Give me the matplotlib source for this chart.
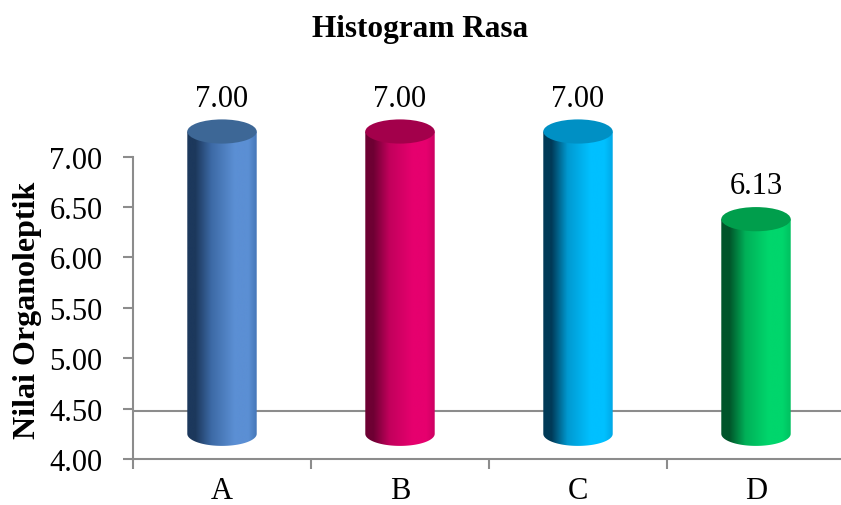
import matplotlib.pyplot as plt
import numpy as np
from matplotlib.colors import LinearSegmentedColormap
from matplotlib.patches import Ellipse, PathPatch
from matplotlib.path import Path

# data
kategori = ['A', 'B', 'C', 'D']
nilai = [7.00, 7.00, 7.00, 6.13]

# warna: (tepi gelap, tengah, terang, kanan, tutup)
warna = [('#1c385c', '#3d6aa6', '#5b8fd4', '#4577b8', '#3d6796'),
         ('#6e0033', '#c2005c', '#e6006e', '#cc0062', '#a3004b'),
         ('#003a57', '#0099d0', '#00c0ff', '#00a8e6', '#0090c4'),
         ('#00552a', '#00b058', '#00d66c', '#00c060', '#009e4c')]

plt.rcParams['font.family'] = 'Liberation Serif'

fig = plt.figure(figsize=(8.41, 5.06), dpi=100)
ax = fig.add_axes([133/841, 46/506, 712/841, (460-67)/506])

dasar = 4.0
offset = 0.25      # geser 3D
lebar = 0.39
ry = 0.12          # setengah tinggi elips

ax.axhline(4.48, color='#8c8c8c', lw=1.5, zorder=1)

grad = np.linspace(0, 1, 256).reshape(1, -1)
for i, v in enumerate(nilai):
    gelap, tengah, terang, kanan, tutup = warna[i]
    cmap = LinearSegmentedColormap.from_list('c%d' % i,
                                             [(0, gelap), (0.12, gelap), (0.35, tengah),
                                              (0.68, terang), (0.88, terang), (1, kanan)])
    x0, x1 = i - lebar/2, i + lebar/2
    yb = dasar + offset
    yt = v + offset
    t = np.linspace(np.pi, 2*np.pi, 60)
    ex = i + lebar/2 * np.cos(t)
    ey = yb + ry * np.sin(t)
    verts = [(x0, yt)] + list(zip(ex, ey)) + [(x1, yt), (x0, yt)]
    codes = [Path.MOVETO] + [Path.LINETO] * (len(verts) - 2) + [Path.CLOSEPOLY]
    body = PathPatch(Path(verts, codes), facecolor='none', edgecolor='none')
    ax.add_patch(body)
    im = ax.imshow(grad, cmap=cmap, extent=[x0, x1, yb - ry, yt], aspect='auto', zorder=2)
    im.set_clip_path(body)
    ax.add_patch(Ellipse((i, yt), lebar, 2*ry, facecolor=tutup, edgecolor='none', zorder=3))
    ax.text(i, v + 0.58, '%.2f' % v, ha='center', va='center', fontsize=22)

ax.set_xlim(-0.5, 3.5)
ax.set_ylim(4.0, 7.9)

for s in ['top', 'right']:
    ax.spines[s].set_visible(False)
ax.spines['left'].set_bounds(4.0, 7.0)
ax.spines['left'].set_color('#8c8c8c')
ax.spines['bottom'].set_color('#8c8c8c')
ax.spines['left'].set_linewidth(1.5)
ax.spines['bottom'].set_linewidth(1.5)

ax.set_yticks(np.arange(4.0, 7.01, 0.5))
ax.set_yticklabels(['%.2f' % y for y in np.arange(4.0, 7.01, 0.5)], fontsize=22)
ax.tick_params(axis='y', length=7, width=1.5, color='#8c8c8c', pad=15)

ax.set_xticks(range(len(kategori)))
ax.set_xticklabels(kategori, fontsize=22)
ax.set_xticks(np.arange(-0.5, 3.6, 1), minor=True)
ax.tick_params(axis='x', which='major', length=0, pad=12)
ax.tick_params(axis='x', which='minor', length=7, width=1.5, color='#8c8c8c')

fig.text(0.5, 1 - 30/506, 'Histogram Rasa', ha='center', va='center', fontsize=22.5, fontweight='bold')
fig.text(28/841, 1 - 310/506, 'Nilai Organoleptik', rotation=90,
         ha='center', va='center', fontsize=23, fontweight='bold')

fig.savefig('out.png', dpi=100)
